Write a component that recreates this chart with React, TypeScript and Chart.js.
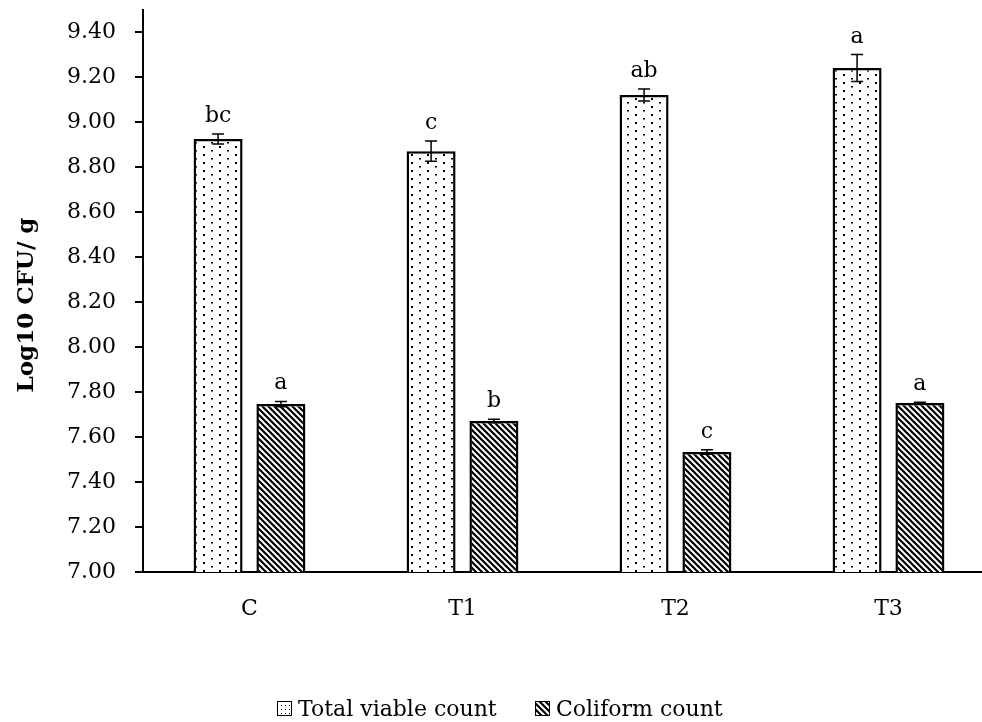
import { useEffect, useRef } from 'react';
import { Chart, registerables } from 'chart.js';

Chart.register(...registerables);

const categories = ['C', 'T1', 'T2', 'T3'];
const seriesNames = ['Total viable count', 'Coliform count'];
const tvcValues = [8.926, 8.872, 9.122, 9.242];
const tvcErrors = [0.022, 0.045, 0.027, 0.06];
const tvcLetters = ['bc', 'c', 'ab', 'a'];
const coliValues = [7.747, 7.672, 7.534, 7.752];
const coliErrors = [0.012, 0.008, 0.01, 0.003];
const coliLetters = ['a', 'b', 'c', 'a'];
const yMin = 7.0;
const yMax = 9.5;
const yTickValues = [7.0, 7.2, 7.4, 7.6, 7.8, 8.0, 8.2, 8.4, 8.6, 8.8, 9.0, 9.2, 9.4];
const yTitle = 'Log10 CFU/ g';

const FONT = '"DejaVu Serif", serif';

function makeDots(ctx: CanvasRenderingContext2D) {
  const w = 16, h = 8;
  const c = document.createElement('canvas');
  c.width = w; c.height = h;
  const g = c.getContext('2d')!;
  g.fillStyle = '#fff'; g.fillRect(0, 0, w, h);
  g.fillStyle = '#000';
  g.fillRect(3, 2, 2, 2);
  g.fillRect(11, 6, 2, 1.5);
  return ctx.createPattern(c, 'repeat')!;
}

function makeLegendDots(ctx: CanvasRenderingContext2D) {
  const n = 4;
  const c = document.createElement('canvas');
  c.width = n; c.height = n;
  const g = c.getContext('2d')!;
  g.fillStyle = '#fff'; g.fillRect(0, 0, n, n);
  g.fillStyle = '#000';
  g.fillRect(1, 1, 1, 1);
  return ctx.createPattern(c, 'repeat')!;
}

function makeStripes(ctx: CanvasRenderingContext2D) {
  const n = 6;
  const c = document.createElement('canvas');
  c.width = n; c.height = n;
  const g = c.getContext('2d')!;
  g.fillStyle = '#fff'; g.fillRect(0, 0, n, n);
  g.strokeStyle = '#000'; g.lineWidth = 2.2;
  g.beginPath();
  g.moveTo(-2, -2); g.lineTo(n + 2, n + 2);
  g.moveTo(-2, n - 2); g.lineTo(2, n + 2);
  g.moveTo(n - 2, -2); g.lineTo(n + 2, 2);
  g.stroke();
  return ctx.createPattern(c, 'repeat')!;
}

export default function App() {
  const ref = useRef<HTMLCanvasElement>(null);
  useEffect(() => {
    const prevMargin = document.body.style.margin;
    document.body.style.margin = '0';
    const canvas = ref.current!;
    const ctx = canvas.getContext('2d')!;
    const dots = makeDots(ctx);
    const legendDots = makeLegendDots(ctx);
    const stripes = makeStripes(ctx);

    const overlay = {
      id: 'overlay',
      afterDatasetsDraw(chart: any) {
        const c = chart.ctx;
        const ys = chart.scales.y;
        const sets: [number[], number[], string[]][] = [
          [tvcValues, tvcErrors, tvcLetters],
          [coliValues, coliErrors, coliLetters],
        ];
        sets.forEach(([vals, errs, letters], di) => {
          const meta = chart.getDatasetMeta(di);
          meta.data.forEach((bar: any, i: number) => {
            const x = bar.x;
            const top = ys.getPixelForValue(vals[i] + errs[i]);
            const bot = ys.getPixelForValue(vals[i] - errs[i]);
            c.save();
            c.strokeStyle = '#000';
            c.lineWidth = 1.5;
            c.beginPath();
            c.moveTo(x, top); c.lineTo(x, bot);
            c.moveTo(x - 6, top); c.lineTo(x + 6, top);
            c.moveTo(x - 6, bot); c.lineTo(x + 6, bot);
            c.stroke();
            c.fillStyle = '#000';
            c.font = `22px ${FONT}`;
            c.textAlign = 'center';
            c.textBaseline = 'alphabetic';
            c.fillText(letters[i], x, top - 12);
            c.restore();
          });
        });
      },
      afterDraw(chart: any) {
        const c = chart.ctx;
        c.save();
        c.translate(25, 297);
        c.rotate(-Math.PI / 2);
        c.font = `bold 23px ${FONT}`;
        c.fillStyle = '#000';
        c.textAlign = 'center';
        c.textBaseline = 'alphabetic';
        c.fillText(yTitle, 0, 0);
        c.restore();

        c.save();
        c.font = `22px ${FONT}`;
        c.fillStyle = '#000';
        c.textBaseline = 'alphabetic';
        const baseY = 708;
        const box = 15;
        const boxY = 693;
        const b2x = 527;
        c.fillStyle = stripes;
        c.fillRect(b2x, boxY, box, box);
        c.strokeStyle = '#000'; c.lineWidth = 1;
        c.strokeRect(b2x + 0.5, boxY + 0.5, box - 1, box - 1);
        c.fillStyle = '#000';
        c.textAlign = 'left';
        c.fillText(seriesNames[1], b2x + box + 6, baseY);
        const t1End = 489;
        const w1 = c.measureText(seriesNames[0]).width;
        const b1x = Math.round(t1End - w1 - 6 - box);
        c.fillStyle = legendDots;
        c.fillRect(b1x, boxY, box, box);
        c.strokeRect(b1x + 0.5, boxY + 0.5, box - 1, box - 1);
        c.fillStyle = '#000';
        c.fillText(seriesNames[0], b1x + box + 6, baseY);
        c.restore();
      },
    };

    const chart = new Chart(canvas, {
      type: 'bar',
      data: {
        labels: categories,
        datasets: [
          {
            label: seriesNames[0],
            data: tvcValues,
            backgroundColor: dots,
            borderColor: '#000',
            borderWidth: 2.5,
            categoryPercentage: 0.59,
            barPercentage: 0.78,
          },
          {
            label: seriesNames[1],
            data: coliValues,
            backgroundColor: stripes,
            borderColor: '#000',
            borderWidth: 2.5,
            categoryPercentage: 0.59,
            barPercentage: 0.78,
          },
        ],
      },
      options: {
        responsive: false,
        maintainAspectRatio: false,
        animation: false,
        layout: { padding: { top: 2, right: 3, left: 0, bottom: 0 } },
        plugins: { legend: { display: false }, tooltip: { enabled: false } },
        scales: {
          x: {
            grid: { display: false, drawTicks: false },
            border: { color: '#000', width: 2 },
            ticks: { color: '#000', font: { family: FONT, size: 22 }, padding: 24 },
            afterFit(scale: any) {
              scale.height = 150;
              scale.paddingLeft = 0;
              scale.paddingRight = 0;
            },
          },
          y: {
            min: yMin,
            max: yMax,
            grid: { drawOnChartArea: false, drawTicks: true, tickLength: 8, color: '#000', lineWidth: 2 },
            border: { color: '#000', width: 2 },
            ticks: {
              color: '#000',
              font: { family: FONT, size: 22 },
              padding: 19,
              callback: (v: any) => Number(v).toFixed(2),
            },
            afterBuildTicks(scale: any) {
              scale.ticks = yTickValues.map((v) => ({ value: v }));
            },
            afterFit(scale: any) {
              scale.width = 135;
              scale.paddingTop = 0;
              scale.paddingBottom = 0;
            },
          },
        },
      },
      plugins: [overlay],
    });
    return () => {
      chart.destroy();
      document.body.style.margin = prevMargin;
    };
  }, []);

  return (
    <div style={{ width: 982, height: 722, overflow: 'hidden', position: 'relative' }}>
      <canvas
        ref={ref}
        width={990}
        height={714}
        style={{ position: 'absolute', left: 8, top: 8, width: 990, height: 714, display: 'block' }}
      />
    </div>
  );
}
